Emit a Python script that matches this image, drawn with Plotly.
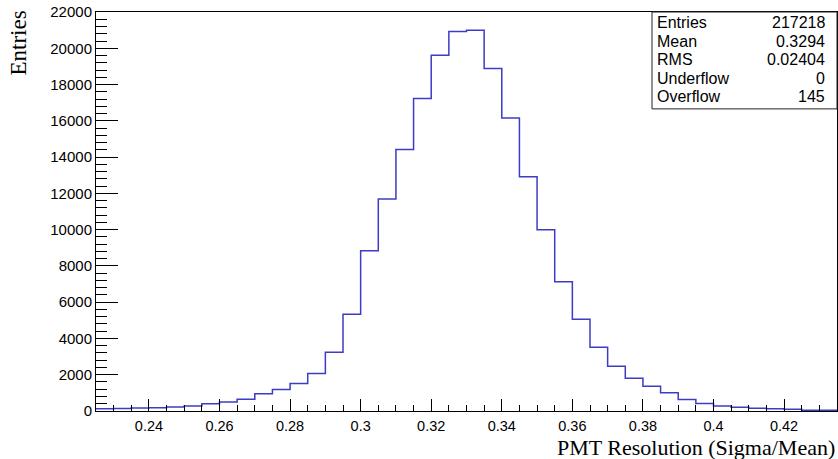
import plotly.graph_objects as go

# ---- data ----
bin_low = 0.225
bin_width = 0.005
counts = [120, 140, 160, 180, 220, 280, 400, 500, 650, 950,
          1190, 1520, 2070, 3240, 5340,
          8830, 11690, 14420, 17230, 19610, 20920, 20990, 18880, 16160, 12910,
          10000, 7120, 5060, 3520, 2470, 1800, 1370, 1000, 640, 420,
          270, 210, 150, 130, 90, 40, 35]
stat_labels = ["Entries", "Mean", "RMS", "Underflow", "Overflow"]
stat_values = ["217218", "0.3294", "0.02404", "0", "145"]

edges = [bin_low + i * bin_width for i in range(len(counts) + 1)]
ys = counts + [counts[-1]]

W, H = 838, 459
L, R, T, B = 96, 837, 12, 411.5


def px(x):
    return (x - L) / (R - L)


def py(y):
    return (B - y) / (B - T)


fig = go.Figure()
fig.add_trace(go.Scatter(x=edges, y=ys, mode="lines", line_shape="hv",
                         line=dict(color="#3c3cc4", width=1.5),
                         hoverinfo="skip", showlegend=False))

xtickfont = dict(family="Liberation Sans, Arial, sans-serif", size=14.5, color="black")
ytickfont = dict(family="Liberation Sans, Arial, sans-serif", size=15, color="black")
fig.update_layout(
    width=W, height=H,
    margin=dict(l=L, r=W - R, t=T, b=H - B),
    paper_bgcolor="white", plot_bgcolor="white",
    showlegend=False,
    xaxis=dict(range=[0.225, 0.435], tick0=0, dtick=0.02, ticks="inside", ticklen=12,
               tickcolor="black", tickwidth=1, showgrid=False, zeroline=False,
               showline=True, mirror=True, linecolor="black", linewidth=1,
               tickfont=xtickfont, ticklabelstandoff=2,
               minor=dict(dtick=0.005, ticks="inside", ticklen=6, tickcolor="black", showgrid=False)),
    yaxis=dict(range=[0, 22000], tick0=0, dtick=2000, ticks="inside", ticklen=22,
               tickcolor="black", tickwidth=1, showgrid=False, zeroline=False,
               showline=True, mirror=True, linecolor="black", linewidth=1,
               tickfont=ytickfont, tickformat="d",
               minor=dict(dtick=400, ticks="inside", ticklen=11, tickcolor="black", showgrid=False)),
)

# axis titles
serif = "Liberation Serif, Times New Roman, serif"
fig.add_annotation(text="Entries", xref="paper", yref="paper", x=px(19), y=py(9),
                   xanchor="center", yanchor="top", textangle=-90, showarrow=False,
                   font=dict(family=serif, size=23, color="black"))
fig.add_annotation(text="PMT Resolution (Sigma/Mean)", xref="paper", yref="paper",
                   x=px(836), y=py(448), xanchor="right", yanchor="middle", showarrow=False,
                   borderpad=0,
                   font=dict(family=serif, size=22, color="black"))

# stats box
fig.add_shape(type="rect", xref="paper", yref="paper", x0=px(652), x1=px(837),
              y0=py(109), y1=py(12), line=dict(color="#222222", width=1), fillcolor="white")
statfont = dict(family="Liberation Sans, Arial, sans-serif", size=16, color="black")
for i, (lab, val) in enumerate(zip(stat_labels, stat_values)):
    yc = 22.5 + i * 18.6
    fig.add_annotation(text=lab, xref="paper", yref="paper", x=px(655), y=py(yc),
                       xanchor="left", yanchor="middle", showarrow=False, font=statfont)
    fig.add_annotation(text=val, xref="paper", yref="paper", x=px(827), y=py(yc),
                       xanchor="right", yanchor="middle", showarrow=False, font=statfont)

fig.write_html("out.html")
